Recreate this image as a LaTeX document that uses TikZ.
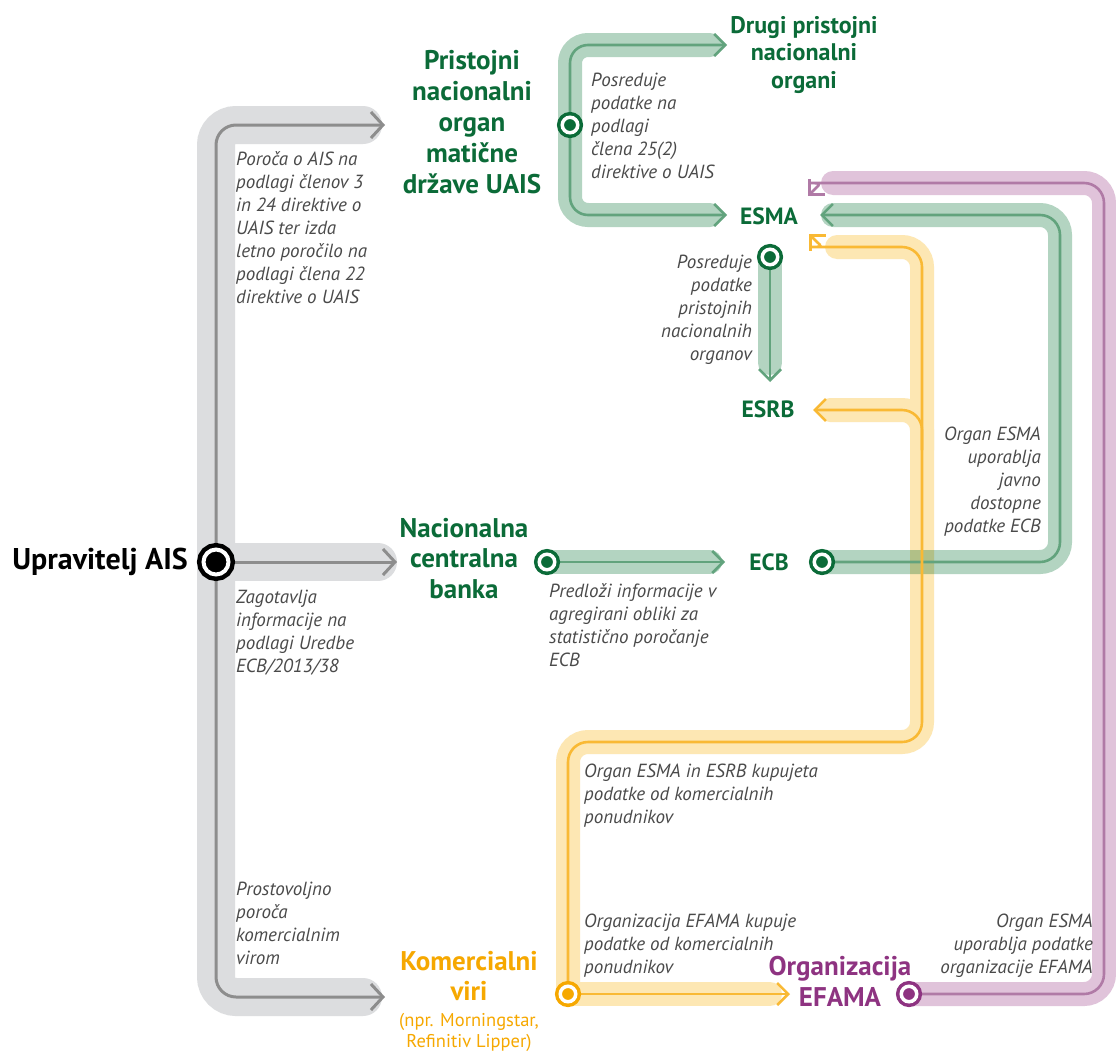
\documentclass[tikz,border=0pt]{standalone}
\usepackage{fontspec}
\setmainfont{PT Sans}
\usetikzlibrary{arrows.meta}
\definecolor{gBand}{HTML}{DCDDDF}
\definecolor{gLine}{HTML}{8D8D8D}
\definecolor{grBand}{HTML}{B3D4C1}
\definecolor{grLine}{HTML}{62A37D}
\definecolor{grDark}{HTML}{0B6B38}
\definecolor{yBand}{HTML}{FDE7B3}
\definecolor{yLine}{HTML}{F9B934}
\definecolor{yDark}{HTML}{F6A800}
\definecolor{pBand}{HTML}{E0C3DA}
\definecolor{pLine}{HTML}{B07AA6}
\definecolor{pDark}{HTML}{8E3381}
\definecolor{tGray}{HTML}{4A4A4A}
\begin{document}
\begin{tikzpicture}[x=1pt,y=-1pt,
  bandG/.style={draw=gBand, line width=38pt, line cap=round, rounded corners=20pt},
  bandGr/.style={draw=grBand, line width=24pt, line cap=round, rounded corners=#1},
  bandGr/.default=20pt,
  bandY/.style={draw=yBand, line width=24pt, line cap=round, rounded corners=20pt},
  bandP/.style={draw=pBand, line width=24pt, line cap=round, rounded corners=20pt},
  lnG/.style={draw=gLine, line width=3pt, rounded corners=20pt, -{Straight Barb[length=12pt,width=26pt]}},
  lnGr/.style={draw=grLine, line width=2.6pt, rounded corners=#1, -{Straight Barb[length=11pt,width=22pt]}},
  lnGr/.default=20pt,
  lnY/.style={draw=yLine, line width=2.6pt, rounded corners=20pt, -{Straight Barb[length=11pt,width=22pt]}},
  lnP/.style={draw=pLine, line width=2.6pt, rounded corners=20pt, -{Straight Barb[length=11pt,width=22pt]}},
  bigdot/.style={circle, draw=black, fill=black, line width=4.5pt, double=white, double distance=4pt, minimum size=25pt, inner sep=0pt, outer sep=0pt},
  dot/.style={circle, draw=#1, fill=#1, line width=3.5pt, double=white, double distance=3.5pt, minimum size=15.5pt, inner sep=0pt, outer sep=0pt},
  note/.style={font=\fontsize{19}{23}\selectfont\itshape, text=tGray, inner sep=0pt, align=left, anchor=base west},
  noteR/.style={font=\fontsize{19}{23}\selectfont\itshape, text=tGray, inner sep=0pt, align=right, anchor=base east},
  lbl/.style={font=\fontsize{27}{31}\selectfont\bfseries, text=#1, inner sep=0pt, align=center, anchor=base},
  lblS/.style={font=\fontsize{24}{27.5}\selectfont\bfseries, text=grDark, inner sep=0pt, align=center, anchor=base},
  lblE/.style={font=\fontsize{23.5}{27}\selectfont\bfseries, text=grDark, inner sep=0pt, anchor=base},
]
\useasboundingbox (0,0) rectangle (1116,1052);
\fill[white] (0,0) rectangle (1116,1052);

% ---------- circle positions ----------
\coordinate (p0) at (216,562);
\coordinate (pG1) at (570,125);
\coordinate (pG2) at (770,257);
\coordinate (pG3) at (547,562);
\coordinate (pG4) at (822,562);
\coordinate (pY) at (568,994);
\coordinate (pP) at (909,994);

% ---------- named ends ----------
\coordinate (aPno) at (385,125);  \coordinate (bPno) at (363,125);
\coordinate (aNcb) at (397,562);  \coordinate (bNcb) at (378,562);
\coordinate (aKv) at (385,997);   \coordinate (bKv) at (363,997);
\coordinate (aDrugi) at (727,45); \coordinate (bDrugi) at (710,45);
\coordinate (aEsma1) at (727,215); \coordinate (bEsma1) at (710,215);
\coordinate (aEsrb) at (770,382); \coordinate (bEsrb) at (770,363);
\coordinate (aEcb) at (725,562);  \coordinate (bEcb) at (710,562);
\coordinate (gLoopR) at (1060,215); \coordinate (aEsma2) at (820,215); \coordinate (bEsma2) at (833,215);
\coordinate (pLoopR) at (1104,183); \coordinate (bEsmaP) at (833,183); \coordinate (kEsmaP) at (828,183); \coordinate (mEsmaP) at (816,188); \coordinate (aEsmaP) at (808,196);
\coordinate (yBR) at (922,742); \coordinate (yTR) at (922,247); \coordinate (bEsmaY) at (837,247); \coordinate (kEsmaY) at (830,247); \coordinate (mEsmaY) at (817,242); \coordinate (aEsmaY) at (809,234);
\coordinate (yBranch) at (922,450); \coordinate (aEsrbY) at (813,410); \coordinate (bEsrbY) at (830,410);
\coordinate (aEfama) at (790,994); \coordinate (bEfama) at (770,994);

% ---------- bands ----------
\draw[bandY] (pY) |- (yBR) -- (yTR) -- (bEsmaY);
\draw[bandY] (yBranch) |- (bEsrbY);
\draw[bandY] (pY) -- (bEfama);
\draw[bandG] (p0) |- (bPno);
\draw[bandG] (p0) |- (bKv);
\draw[bandG] (p0) -- (bNcb);
\begin{scope}[blend mode=multiply]
\draw[bandGr=18pt] (pG1) |- (bDrugi);
\draw[bandGr=18pt] (pG1) |- (bEsma1);
\draw[bandGr] (pG2) -- (bEsrb);
\draw[bandGr] (pG3) -- (bEcb);
\draw[bandGr] (pG4) -| (gLoopR) -- (bEsma2);
\draw[bandP] (pP) -| (pLoopR) -- (bEsmaP);
\end{scope}

% ---------- lines ----------
\draw[lnG] (p0) |- (aPno);
\draw[lnG] (p0) |- (aKv);
\draw[lnG] (p0) -- (aNcb);
\draw[lnGr=18pt] (pG1) |- (aDrugi);
\draw[lnGr=18pt] (pG1) |- (aEsma1);
\draw[lnGr] (pG2) -- (aEsrb);
\draw[lnGr] (pG3) -- (aEcb);
\draw[lnGr] (pG4) -| (gLoopR) -- (aEsma2);
\draw[lnP] (pP) -| (pLoopR) -- (kEsmaP) [sharp corners] to[out=180,in=45] (mEsmaP) -- (aEsmaP);
\draw[lnY] (pY) |- (yBR) -- (yTR) -- (kEsmaY) [sharp corners] to[out=180,in=-45] (mEsmaY) -- (aEsmaY);
\draw[lnY] (yBranch) |- (aEsrbY);
\draw[lnY] (pY) -- (aEfama);

% ---------- circles ----------
\node[bigdot] (c0) at (p0) {};
\node[dot=grDark] (cG1) at (pG1) {};
\node[dot=grDark] (cG2) at (pG2) {};
\node[dot=grDark] (cG3) at (pG3) {};
\node[dot=grDark] (cG4) at (pG4) {};
\node[dot=yDark] (cY) at (pY) {};
\node[dot=pDark] (cP) at (pP) {};

% ---------- labels (anchor = baseline of last line) ----------
\node[font=\fontsize{30}{34}\selectfont\bfseries, inner sep=0pt, anchor=base east] (upr) at (188,569) {Upravitelj AIS};
\node[lbl=grDark] (pno) at (472,193) {Pristojni\\nacionalni\\organ\\matične\\države UAIS};
\node[lbl=grDark, font=\fontsize{27}{30.5}\selectfont\bfseries] (ncb) at (464,598) {Nacionalna\\centralna\\banka};
\node[lblS] (drugi) at (804,88) {Drugi pristojni\\nacionalni\\organi};
\node[lblE] (esma) at (769,224) {ESMA};
\node[lblE] (esrb) at (768,417) {ESRB};
\node[lblE] (ecb) at (769,570) {ECB};
\node[lbl=yDark, font=\fontsize{27}{30}\selectfont\bfseries] (kv) at (469,1000) {Komercialni\\viri};
\node[font=\fontsize{18.5}{21}\selectfont, text=yDark, inner sep=0pt, align=center, anchor=base] (kvs) at (469,1047) {(npr. Morningstar,\\Refinitiv Lipper)};
\node[lbl=pDark] (efama) at (840,1006) {Organizacija\\EFAMA};

% ---------- notes (anchor = baseline of last line) ----------
\node[note] (n1) at (236,303) {Poroča o AIS na\\podlagi členov 3\\in 24 direktive o\\UAIS ter izda\\letno poročilo na\\podlagi člena 22\\direktive o UAIS};
\node[note] (n2) at (236,672) {Zagotavlja\\informacije na\\podlagi Uredbe\\ECB/2013/38};
\node[note] (n3) at (236,964) {Prostovoljno\\poroča\\komercialnim\\virom};
\node[note] (n4) at (591,178) {Posreduje\\podatke na\\podlagi\\člena 25(2)\\direktive o UAIS};
\node[noteR] (n5) at (752,360) {Posreduje\\podatke\\pristojnih\\nacionalnih\\organov};
\node[note] (n6) at (549,666) {Predloži informacije v\\agregirani obliki za\\statistično poročanje\\ECB};
\node[noteR] (n7) at (1041,532) {Organ ESMA\\uporablja\\javno\\dostopne\\podatke ECB};
\node[note] (n8) at (584,823) {Organ ESMA in ESRB kupujeta\\podatke od komercialnih\\ponudnikov};
\node[note] (n9) at (584,973) {Organizacija EFAMA kupuje\\podatke od komercialnih\\ponudnikov};
\node[noteR] (n10) at (1093,973) {Organ ESMA\\uporablja podatke\\organizacije EFAMA};
\end{tikzpicture}
\end{document}
